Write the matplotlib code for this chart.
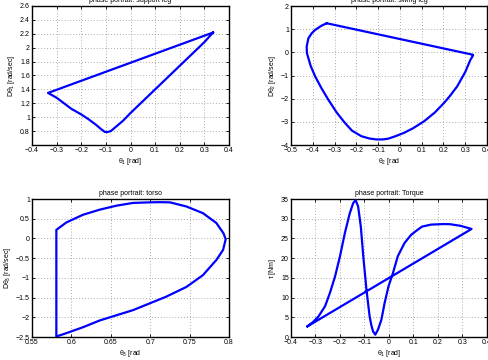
import matplotlib
matplotlib.use("Agg")
import matplotlib.pyplot as plt

plt.rcParams['font.family'] = ['Liberation Sans', 'DejaVu Sans']
plt.rcParams['mathtext.fontset'] = 'custom'
plt.rcParams['mathtext.rm'] = 'Liberation Sans'
plt.rcParams['mathtext.it'] = 'Liberation Sans'

# ---- support leg: theta1 vs Dtheta1
sup_theta = [0.335, -0.335, -0.32, -0.30, -0.27, -0.24, -0.20, -0.17, -0.14, -0.12, -0.105, -0.095,
             -0.08, -0.06, -0.03, 0.0, 0.05, 0.10, 0.15, 0.20, 0.25, 0.30, 0.335]
sup_dtheta = [2.218, 1.349, 1.32, 1.28, 1.20, 1.12, 1.04, 0.97, 0.89, 0.83, 0.79, 0.785,
              0.80, 0.86, 0.95, 1.06, 1.23, 1.40, 1.57, 1.74, 1.91, 2.08, 2.218]

# ---- swing leg: theta2 vs Dtheta2
sw_theta = [-0.336, 0.336, 0.335, 0.324, 0.30, 0.263, 0.23, 0.203, 0.16, 0.112, 0.06, 0.02, -0.02,
            -0.055, -0.08, -0.108, -0.14, -0.177, -0.22, -0.253, -0.29, -0.329, -0.36, -0.389,
            -0.41, -0.427, -0.428, -0.42, -0.405, -0.389, -0.36, -0.336]
sw_dtheta = [1.255, -0.106, -0.15, -0.32, -0.85, -1.47, -1.88, -2.18, -2.60, -2.97, -3.28, -3.47, -3.62,
             -3.73, -3.76, -3.76, -3.72, -3.62, -3.38, -3.04, -2.60, -2.04, -1.55, -1.04,
             -0.58, -0.03, 0.25, 0.61, 0.82, 0.97, 1.15, 1.255]

# ---- torso: theta3 vs Dtheta3
to_theta = [0.5809, 0.5809, 0.5936, 0.6147, 0.636, 0.657, 0.678, 0.699, 0.712, 0.725, 0.746, 0.767,
            0.784, 0.793, 0.7958, 0.7925, 0.784, 0.767, 0.746, 0.72, 0.699, 0.678, 0.657, 0.636,
            0.615, 0.594, 0.582]
to_dtheta = [-2.48, 0.218, 0.405, 0.60, 0.73, 0.83, 0.90, 0.915, 0.92, 0.915, 0.81, 0.64,
             0.39, 0.13, -0.02, -0.29, -0.546, -0.93, -1.23, -1.48, -1.65, -1.82, -1.95, -2.08,
             -2.25, -2.40, -2.48]

# ---- torque: theta1 vs tau
tq_theta = [-0.333, 0.337, 0.292, 0.25, 0.225, 0.171, 0.135, 0.117, 0.09, 0.063, 0.036, 0.016, -0.002,
            -0.018, -0.031, -0.045, -0.056, -0.065, -0.072, -0.079, -0.092, -0.105, -0.115, -0.126,
            -0.136, -0.146, -0.16, -0.18, -0.20, -0.22, -0.241, -0.261, -0.288, -0.31, -0.333]
tq_tau = [2.7, 27.4, 28.2, 28.6, 28.65, 28.5, 28.0, 27.2, 25.9, 23.8, 20.5, 16.2, 12.85,
          8.6, 4.4, 1.86, 0.6, 1.4, 3.0, 5.2, 12.0, 20.5, 28.0, 33.1,
          34.7, 34.0, 31.4, 26.4, 20.5, 15.4, 11.2, 7.8, 5.2, 3.8, 2.7]

fig = plt.figure(figsize=(4.89, 3.6), dpi=100)
W, H = 489.0, 360.0

def make_ax(x0, x1, y0, y1):
    return fig.add_axes([x0 / W, 1 - y1 / H, (x1 - x0) / W, (y1 - y0) / H])

axes = [make_ax(32, 229, 6, 145), make_ax(291, 487, 6, 145),
        make_ax(32, 229, 199, 337), make_ax(291, 487, 199, 337)]

specs = [
    (sup_theta, sup_dtheta, (-0.4, 0.4), [-0.4, -0.3, -0.2, -0.1, 0, 0.1, 0.2, 0.3, 0.4],
     ['\u22120.4', '\u22120.3', '\u22120.2', '\u22120.1', '0', '0.1', '0.2', '0.3', '0.4'],
     (0.6, 2.6), [0.8, 1.0, 1.2, 1.4, 1.6, 1.8, 2.0, 2.2, 2.4, 2.6],
     ['0.8', '1', '1.2', '1.4', '1.6', '1.8', '2', '2.2', '2.4', '2.6'],
     'phase portrait: support leg', r'$\theta_1$ [rad]', r'D$\theta_1$ [rad/sec]'),
    (sw_theta, sw_dtheta, (-0.5, 0.4), [-0.5, -0.4, -0.3, -0.2, -0.1, 0, 0.1, 0.2, 0.3, 0.4],
     ['\u22120.5', '\u22120.4', '\u22120.3', '\u22120.2', '\u22120.1', '0', '0.1', '0.2', '0.3', '0.4'],
     (-4, 2), [-4, -3, -2, -1, 0, 1, 2],
     ['\u22124', '\u22123', '\u22122', '\u22121', '0', '1', '2'],
     'phase portrait: swing leg', r'$\theta_2$ [rad', r'D$\theta_2$ [rad/sec]'),
    (to_theta, to_dtheta, (0.55, 0.8), [0.55, 0.6, 0.65, 0.7, 0.75, 0.8],
     ['0.55', '0.6', '0.65', '0.7', '0.75', '0.8'],
     (-2.5, 1), [-2.5, -2, -1.5, -1, -0.5, 0, 0.5, 1],
     ['\u22122.5', '\u22122', '\u22121.5', '\u22121', '\u22120.5', '0', '0.5', '1'],
     'phase portrait: torso', r'$\theta_3$ [rad', r'D$\theta_3$ [rad/sec]'),
    (tq_theta, tq_tau, (-0.4, 0.4), [-0.4, -0.3, -0.2, -0.1, 0, 0.1, 0.2, 0.3, 0.4],
     ['\u22120.4', '\u22120.3', '\u22120.2', '\u22120.1', '0', '0.1', '0.2', '0.3', '0.4'],
     (0, 35), [0, 5, 10, 15, 20, 25, 30, 35],
     ['0', '5', '10', '15', '20', '25', '30', '35'],
     'phase portrait: Torque', r'$\theta_1$ [rad]', r'$\tau$ [Nm]'),
]

for ax, (xs, ys, xl, xt, xtl, yl, yt, ytl, title, xlab, ylab) in zip(axes, specs):
    ax.plot(xs, ys, color='#0000ff', lw=1.6, solid_joinstyle='round', zorder=3)
    ax.set_xlim(*xl)
    ax.set_ylim(*yl)
    ax.set_xticks(xt)
    ax.set_xticklabels(xtl)
    ax.set_yticks(yt)
    ax.set_yticklabels(ytl)
    ax.grid(True, linestyle=(0, (1, 2.5)), color='#909090', lw=0.6)
    ax.tick_params(direction='in', length=2.5, width=0.6, labelsize=5, pad=1.5,
                   top=True, right=True, colors='black')
    for s in ax.spines.values():
        s.set_linewidth(1.0)
    ax.set_title(title, fontsize=5, pad=3)
    ax.set_xlabel(xlab, fontsize=5, labelpad=1.5)
    ax.set_ylabel(ylab, fontsize=5, labelpad=2)

fig.savefig('out.png', dpi=100)
